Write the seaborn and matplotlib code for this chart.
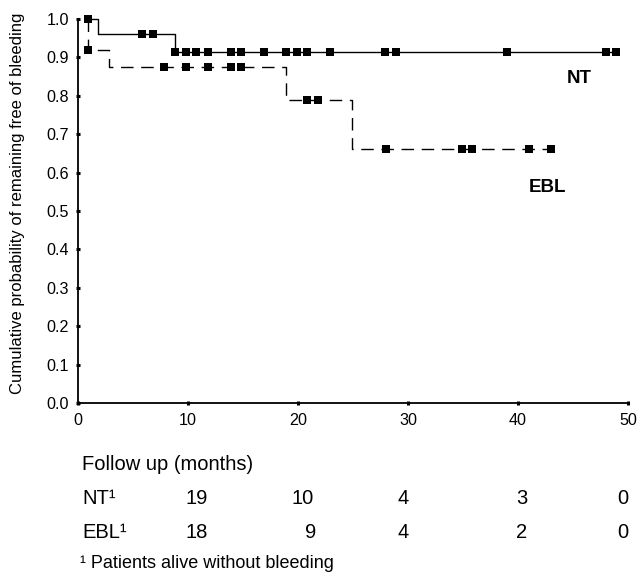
import numpy as np
import pandas as pd
import matplotlib
matplotlib.use("Agg")
import matplotlib.pyplot as plt
import seaborn as sns

# ---- data ----
nt_step_t = [0.9, 1.8, 8.8, 48.9]
nt_step_s = [1.0, 0.96, 0.914, 0.914]
nt_censor = [0.9, 5.8, 6.85, 8.8, 9.8, 10.7, 11.8, 13.9, 14.8, 16.9, 18.9,
             19.9, 20.8, 22.9, 27.9, 28.9, 39.0, 48.0, 48.9]

ebl_step_t = [0.9, 0.9, 2.8, 18.9, 24.9, 43.0]
ebl_step_s = [1.0, 0.92, 0.874, 0.789, 0.661, 0.661]
ebl_censor = [0.9, 7.8, 9.8, 11.8, 13.9, 14.8, 20.8, 21.8, 28.0, 34.9, 35.8,
              41.0, 43.0]

x_ticks = [0, 10, 20, 30, 40, 50]
y_ticks = [0.0, 0.1, 0.2, 0.3, 0.4, 0.5, 0.6, 0.7, 0.8, 0.9, 1.0]

table_title = "Follow up (months)"
row_labels = ["NT\u00b9", "EBL\u00b9"]
nt_at_risk = ["19", "10", "4", "3", "0"]
ebl_at_risk = ["18", "9", "4", "2", "0"]
footnote = "\u00b9 Patients alive without bleeding"
ylabel = "Cumulative probability of remaining free of bleeding"


def censor_y(step_t, step_s, times):
    idx = np.searchsorted(np.asarray(step_t), np.asarray(times), side="right") - 1
    return np.asarray(step_s)[idx]


sns.set_style("ticks")
plt.rcParams["font.family"] = ["Liberation Sans", "DejaVu Sans"]
plt.rcParams["text.color"] = "black"
plt.rcParams["axes.labelcolor"] = "black"
plt.rcParams["xtick.color"] = "black"
plt.rcParams["ytick.color"] = "black"

W, H = 642, 581
fig = plt.figure(figsize=(W / 100, H / 100), dpi=100)
ax = fig.add_axes([78 / W, 1 - 403 / H, 550 / W, 384 / H])

nt_df = pd.DataFrame({"t": nt_step_t, "s": nt_step_s})
ebl_df = pd.DataFrame({"t": ebl_step_t, "s": ebl_step_s})

sns.lineplot(data=nt_df, x="t", y="s", ax=ax, estimator=None, sort=False,
             drawstyle="steps-post", color="black", linewidth=1.0, clip_on=False)
sns.lineplot(data=ebl_df, x="t", y="s", ax=ax, estimator=None, sort=False,
             drawstyle="steps-post", color="black", linewidth=1.0,
             dashes=False, clip_on=False)
ax.lines[-1].set_dashes((9, 5.5))

nt_c = pd.DataFrame({"t": nt_censor, "s": censor_y(nt_step_t, nt_step_s, nt_censor)})
ebl_c = pd.DataFrame({"t": ebl_censor, "s": censor_y(ebl_step_t, ebl_step_s, ebl_censor)})
for d in (nt_c, ebl_c):
    sns.scatterplot(data=d, x="t", y="s", ax=ax, marker="s", s=26, color="black",
                    edgecolor="black", linewidth=0, clip_on=False, zorder=5)

ax.set_xlim(0, 50)
ax.set_ylim(0, 1.0)
ax.set_xticks(x_ticks)
ax.set_yticks(y_ticks)
ax.set_xticklabels([str(v) for v in x_ticks])
ax.set_yticklabels([f"{v:.1f}" for v in y_ticks])
ax.tick_params(axis="both", direction="inout", length=3, width=2.2,
               labelsize=11.6, color="black", labelcolor="black")
ax.tick_params(axis="y", pad=5)
ax.tick_params(axis="x", pad=6)
for side in ("left", "bottom"):
    ax.spines[side].set_linewidth(1.3)
    ax.spines[side].set_color("black")
sns.despine(ax=ax)

ax.set_xlabel("")
ax.set_ylabel(ylabel, fontsize=12, color="black")
ax.yaxis.set_label_coords(-0.096, 0.52)

ax.text(45.6, 0.844, "NT", fontsize=13.5, fontweight="bold", ha="center",
        va="center", color="black")
ax.text(42.7, 0.56, "EBL", fontsize=13.5, fontweight="bold", ha="center",
        va="center", color="black")

# ---- at-risk table below the plot ----
fs = 14.5
fig.text(82 / W, 1 - 465 / H, table_title, fontsize=fs, ha="left", va="center")
fig.text(82 / W, 1 - 498 / H, row_labels[0], fontsize=fs, ha="left", va="center")
fig.text(82 / W, 1 - 532 / H, row_labels[1], fontsize=fs, ha="left", va="center")
nt_cols = [197, 303, 403, 522, 623]
ebl_cols = [197, 311, 403, 522, 623]
for xp, v in zip(nt_cols, nt_at_risk):
    fig.text(xp / W, 1 - 498 / H, v, fontsize=fs, ha="center", va="center")
for xp, v in zip(ebl_cols, ebl_at_risk):
    fig.text(xp / W, 1 - 532 / H, v, fontsize=fs, ha="center", va="center")
fig.text(80 / W, 1 - 564 / H, footnote, fontsize=13, ha="left", va="center")

fig.savefig("out.png", dpi=100)
